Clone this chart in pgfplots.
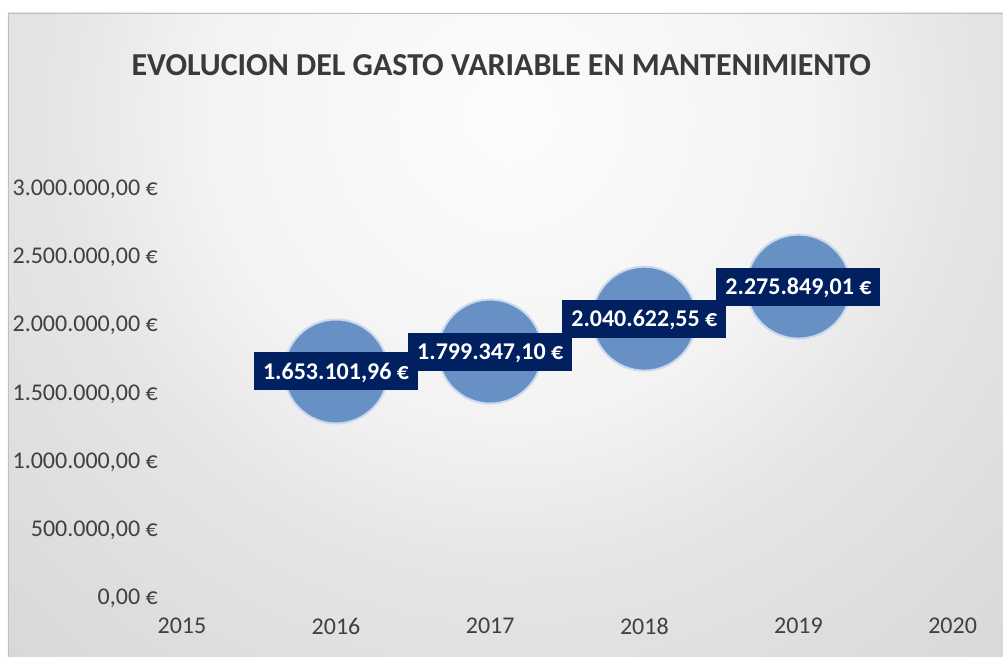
\documentclass[border=0pt]{standalone}
\usepackage{pgfplots}
\pgfplotsset{compat=1.18}
\usepackage{pgfplotstable}
\usepackage{fontspec}
\setmainfont{Carlito}
\definecolor{txt}{HTML}{404040}
\definecolor{ttl}{HTML}{3A3A3A}
\definecolor{bub}{HTML}{6790C5}
\definecolor{bubedge}{HTML}{C9D8EC}
\definecolor{lab}{HTML}{002060}
\definecolor{g0}{HTML}{FCFCFC}
\definecolor{g1}{HTML}{F3F3F3}
\definecolor{g2}{HTML}{E5E5E5}
\definecolor{g3}{HTML}{D7D7D7}
\definecolor{g4}{HTML}{CDCDCD}
\definecolor{g5}{HTML}{BFBFBF}
\pgfdeclareradialshading{bg}{\pgfpoint{0bp}{0bp}}{color(0bp)=(g0); color(10bp)=(g1); color(15bp)=(g2); color(25bp)=(g3); color(33bp)=(g4); color(50bp)=(g5)}
\pgfplotstableread{
x y label
2016 1653101.96 {1.653.101,96 €}
2017 1799347.10 {1.799.347,10 €}
2018 2040622.55 {2.040.622,55 €}
2019 2275849.01 {2.275.849,01 €}
}\data
\begin{document}
\begin{tikzpicture}[x=1pt,y=1pt]
\fill[white] (0,0) rectangle (1003,657);
\begin{scope}
\clip (8,0) rectangle (1003,644);
\shade[shading=bg] (510,540) circle (760);
\end{scope}
\draw[gray!50, line width=0.8pt] (8,0) -- (8,644) -- (1003,644);
\node[font=\fontsize{32}{38}\selectfont\bfseries, text=ttl] at (501.5,592) {EVOLUCION DEL GASTO VARIABLE EN MANTENIMIENTO};
\begin{axis}[at={(182pt,60pt)}, anchor=south west, scale only axis,
  width=771pt, height=409pt,
  xmin=2015, xmax=2020, ymin=0, ymax=3000000, clip=false,
  axis line style={draw=none}, major tick length=0pt,
  scaled y ticks=false, scaled x ticks=false,
  xtick={2015,2016,2017,2018,2019,2020},
  xticklabels={2015,2016,2017,2018,2019,2020},
  ytick={0,500000,1000000,1500000,2000000,2500000,3000000},
  yticklabels={{0,00 €},{500.000,00 €},{1.000.000,00 €},{1.500.000,00 €},{2.000.000,00 €},{2.500.000,00 €},{3.000.000,00 €}},
  ticklabel style={font=\fontsize{24}{28}\selectfont, text=txt, inner sep=0pt, text depth=0pt},
  yticklabel style={anchor=east, xshift=-24pt},
  xticklabel style={anchor=north, yshift=-21pt},
]
\addplot[only marks, mark=*, mark size=52pt,
  mark options={fill=bub, draw=bubedge, line width=2pt},
  nodes near coords, point meta=explicit symbolic,
  nodes near coords style={anchor=center, fill=lab, text=white,
    font=\fontsize{24}{28}\selectfont\bfseries, inner xsep=9pt, inner ysep=0pt,
    minimum height=38pt, text depth=0pt}]
  table[x=x, y=y, meta=label] {\data};
\end{axis}
\end{tikzpicture}
\end{document}
